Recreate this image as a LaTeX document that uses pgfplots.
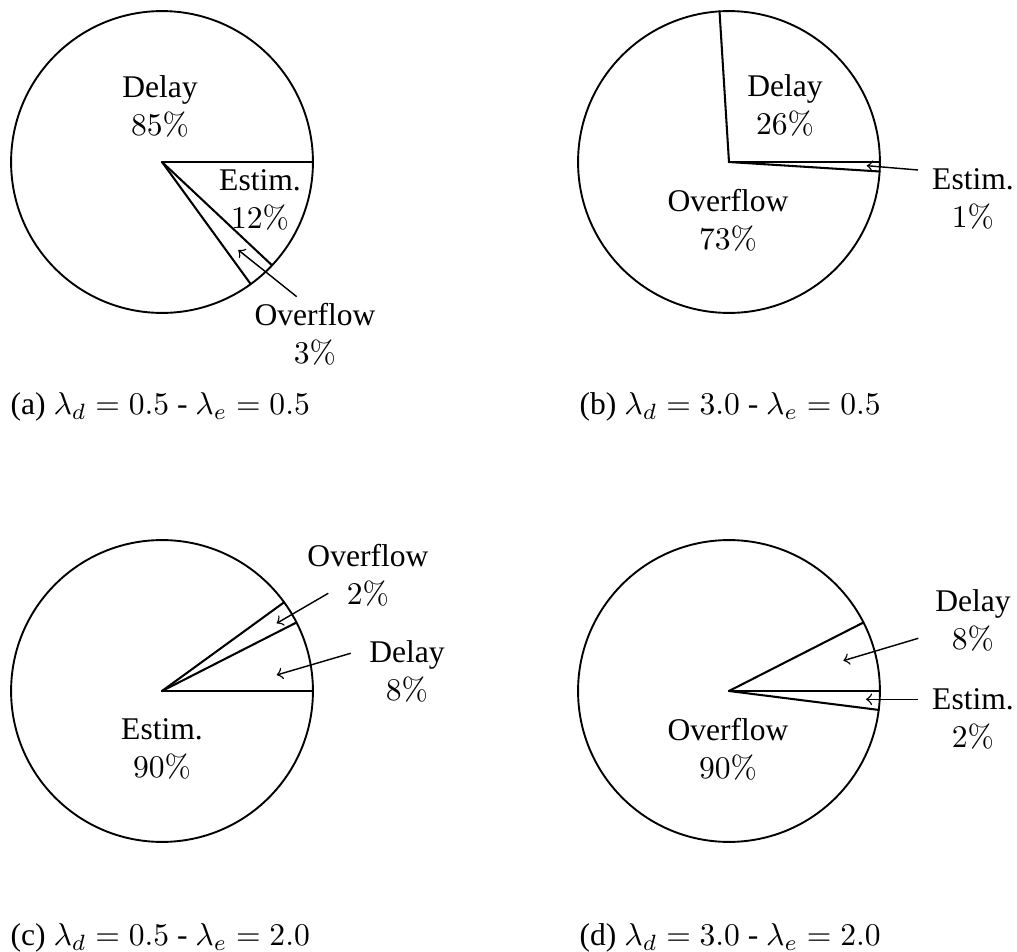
\documentclass[border=0pt]{standalone}
\usepackage[no-math]{fontspec}
\setmainfont{Liberation Serif}
\usepackage{pgfplots}
\pgfplotsset{compat=1.18}
\usepgfplotslibrary{polar}

% one pie = polar axis whose outer circle is the pie rim
\pgfplotsset{
  pie/.style={
    width=95.6pt, height=95.6pt, scale only axis,
    anchor=center,
    xmin=0, xmax=360, ymin=0, ymax=1,
    xtick=\empty, ytick=\empty,
    axis line style={line width=0.6pt},
    clip=false,
    cycle list={{black}},
    every axis plot/.append style={line width=0.65pt, line cap=round},
  },
}

\begin{document}
\begin{tikzpicture}
\useasboundingbox (0pt,0pt) rectangle (322.08pt,-301.50pt);

% (a) Delay 85%, Overflow 3%, Estim. 12%  (boundaries at 3.6 * cumulative %)
\begin{polaraxis}[pie, at={(51.31pt,-51.31pt)}]
\addplot coordinates {(0,0) (0,1)};
\addplot coordinates {(0,0) (306,1)};
\addplot coordinates {(0,0) (316.8,1)};
\end{polaraxis}

% (b) Delay 26%, Overflow 73%, Estim. 1%
\begin{polaraxis}[pie, at={(230.87pt,-51.31pt)}]
\addplot coordinates {(0,0) (0,1)};
\addplot coordinates {(0,0) (93.6,1)};
\addplot coordinates {(0,0) (356.4,1)};
\end{polaraxis}

% (c) Delay 7.5%, Overflow 2.5%, Estim. 90%
\begin{polaraxis}[pie, at={(51.31pt,-218.84pt)}]
\addplot coordinates {(0,0) (0,1)};
\addplot coordinates {(0,0) (27,1)};
\addplot coordinates {(0,0) (36,1)};
\end{polaraxis}

% (d) Delay 7.5%, Overflow 90.5%, Estim. 2%
\begin{polaraxis}[pie, at={(230.87pt,-218.84pt)}]
\addplot coordinates {(0,0) (0,1)};
\addplot coordinates {(0,0) (27,1)};
\addplot coordinates {(0,0) (352.8,1)};
\end{polaraxis}

% labels and arrows, in reference pixel units
\begin{scope}[x=0.3167pt,y=-0.3167pt,every node/.style={align=center}]
\node at (160,106) {Delay\\$85\%$};
\node at (260,200) {Estim.\\$12\%$};
\node at (315,334) {Overflow\\$3\%$};
\draw[->,line width=0.45pt] (296.7,296.7) -- (238.3,250);

\node at (785,105) {Delay\\$26\%$};
\node at (728,220) {Overflow\\$73\%$};
\node at (973,199) {Estim.\\$1\%$};
\draw[->,line width=0.45pt] (918,170) -- (866.7,165.7);

\node at (368,575) {Overflow\\$2\%$};
\node at (407,671) {Delay\\$8\%$};
\node at (162,749) {Estim.\\$90\%$};
\draw[->,line width=0.45pt] (328.3,593.3) -- (276.7,623.3);
\draw[->,line width=0.45pt] (350.7,653.3) -- (276.7,675);

\node at (973,620) {Delay\\$8\%$};
\node at (973,719) {Estim.\\$2\%$};
\node at (728,749) {Overflow\\$90\%$};
\draw[->,line width=0.45pt] (918.3,638.3) -- (843.3,660.7);
\draw[->,line width=0.45pt] (918.3,699.3) -- (866,699.3);
\end{scope}

\begin{scope}[x=0.3167pt,y=-0.3167pt,every node/.style={anchor=base west,inner sep=0pt}]
\node at (10,415) {(a) $\lambda_d = 0.5$ - $\lambda_e = 0.5$};
\node at (579,415) {(b) $\lambda_d = 3.0$ - $\lambda_e = 0.5$};
\node at (10,946) {(c) $\lambda_d = 0.5$ - $\lambda_e = 2.0$};
\node at (579,946) {(d) $\lambda_d = 3.0$ - $\lambda_e = 2.0$};
\end{scope}
\end{tikzpicture}
\end{document}
